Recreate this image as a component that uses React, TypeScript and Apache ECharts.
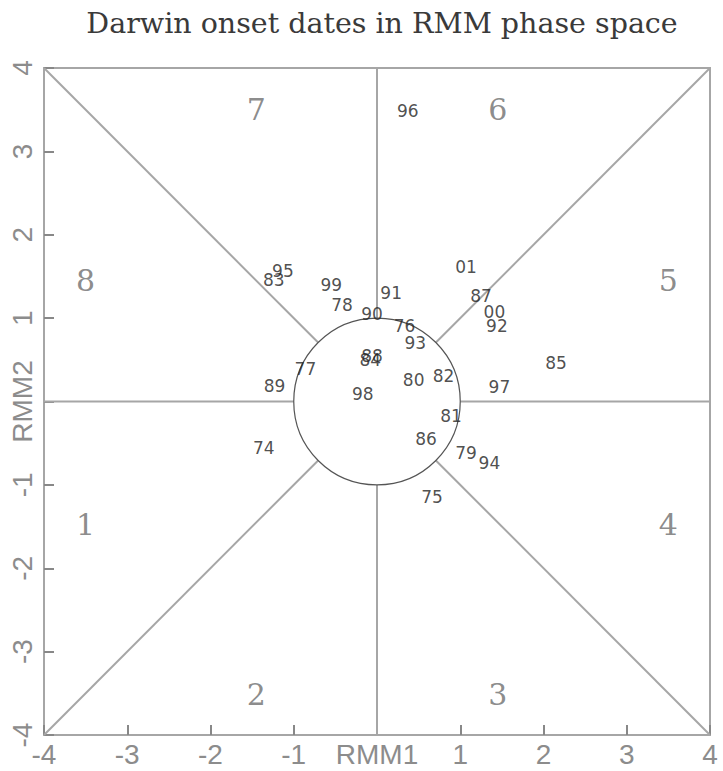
import React, { useEffect, useRef } from "react";
import * as echarts from "echarts";

const titleText = "Darwin onset dates in RMM phase space";
const axisTicks = [-4, -3, -2, -1, 0, 1, 2, 3, 4];
const xAxisName = "RMM1";
const yAxisName = "RMM2";

const years = ["96", "01", "95", "83", "99", "91", "87", "78", "00", "90", "92", "76", "93", "88", "84", "85", "77", "82", "80", "89", "97", "98", "81", "86", "74", "79", "94", "75"];
const rmm1 = [0.37, 1.07, -1.13, -1.24, -0.55, 0.17, 1.25, -0.42, 1.41, -0.06, 1.44, 0.33, 0.46, -0.06, -0.08, 2.15, -0.86, 0.80, 0.44, -1.23, 1.47, -0.17, 0.89, 0.59, -1.36, 1.07, 1.35, 0.66];
const rmm2 = [3.48, 1.61, 1.57, 1.46, 1.40, 1.30, 1.26, 1.16, 1.07, 1.05, 0.90, 0.90, 0.70, 0.54, 0.50, 0.46, 0.39, 0.30, 0.26, 0.19, 0.17, 0.09, -0.17, -0.45, -0.56, -0.62, -0.74, -1.14];

const phaseNames = ["1", "2", "3", "4", "5", "6", "7", "8"];
const phaseX = [-3.5, -1.45, 1.45, 3.5, 3.5, 1.45, -1.45, -3.5];
const phaseY = [-1.48, -3.52, -3.52, -1.48, 1.45, 3.5, 3.5, 1.45];

const lineAngles = [0, 45, 90, 135, 180, 225, 270, 315];

export default function App() {
  const ref = useRef<HTMLDivElement>(null);
  useEffect(() => {
    const chart = echarts.init(ref.current!, null, { renderer: "svg" });
    const lineSeries = lineAngles.map((a) => {
      const c = Math.cos((a * Math.PI) / 180);
      const s = Math.sin((a * Math.PI) / 180);
      const c0 = Math.abs(c) < 1e-9 ? 0 : c;
      const s0 = Math.abs(s) < 1e-9 ? 0 : s;
      const k = 4 / Math.max(Math.abs(c0), Math.abs(s0));
      return {
        type: "line",
        data: [
          [c0, s0],
          [c0 * k, s0 * k],
        ],
        symbol: "none",
        silent: true,
        lineStyle: { color: "#a6a6a6", width: 2 },
        z: 1,
      };
    });
    const axisLabelStyle = {
      fontFamily: "'Liberation Sans Narrow', 'Liberation Sans', sans-serif",
      fontSize: 28,
      color: "#8c8c8c",
    };
    const tickStyle = { show: true, inside: true, length: 10, lineStyle: { color: "#888", width: 2 } };
    chart.setOption({
      animation: false,
      backgroundColor: "#ffffff",
      title: {
        text: titleText,
        left: 377,
        top: 4,
        textAlign: "center",
        textStyle: {
          fontFamily: "'DejaVu Serif', serif",
          fontWeight: "normal",
          fontSize: 28.5,
          color: "#3a3a3a",
        },
      },
      grid: {
        left: 44,
        top: 68,
        width: 666,
        height: 667,
        show: true,
        borderColor: "#a6a6a6",
        borderWidth: 2,
        backgroundColor: "transparent",
      },
      xAxis: {
        type: "value",
        min: -4,
        max: 4,
        interval: 1,
        position: "bottom",
        axisLine: { show: true, onZero: false, lineStyle: { color: "#a6a6a6", width: 2 } },
        axisTick: tickStyle,
        splitLine: { show: false },
        axisLabel: {
          ...axisLabelStyle,
          margin: 5,
          formatter: (v: number) => (v === 0 ? xAxisName : axisTicks.includes(v) ? String(v) : ""),
        },
      },
      yAxis: {
        type: "value",
        min: -4,
        max: 4,
        interval: 1,
        position: "left",
        axisLine: { show: true, onZero: false, lineStyle: { color: "#a6a6a6", width: 2 } },
        axisTick: tickStyle,
        splitLine: { show: false },
        axisLabel: {
          ...axisLabelStyle,
          rotate: 90,
          margin: 8,
          formatter: (v: number) => (v === 0 ? yAxisName : axisTicks.includes(v) ? String(v) : ""),
        },
      },
      series: [
        ...lineSeries,
        {
          type: "custom",
          silent: true,
          data: [[0, 0]],
          renderItem: (_params: any, api: any) => {
            const c = api.coord([0, 0]);
            const r = api.size([1, 1]);
            return {
              type: "ellipse",
              shape: { cx: c[0], cy: c[1], rx: r[0], ry: r[1] },
              style: { fill: "none", stroke: "#555", lineWidth: 1.2 },
            };
          },
          z: 2,
        },
        {
          type: "scatter",
          silent: true,
          symbolSize: 1,
          itemStyle: { color: "rgba(0,0,0,0)" },
          data: phaseNames.map((n, i) => [phaseX[i], phaseY[i], n]),
          label: {
            show: true,
            position: "inside",
            formatter: (p: any) => p.value[2],
            fontFamily: "'DejaVu Serif', serif",
            fontSize: 30,
            color: "#6e6e6e",
          },
          z: 3,
        },
        {
          type: "scatter",
          silent: true,
          symbolSize: 1,
          itemStyle: { color: "rgba(0,0,0,0)" },
          data: years.map((n, i) => [rmm1[i], rmm2[i], n]),
          label: {
            show: true,
            position: "inside",
            formatter: (p: any) => p.value[2],
            fontFamily: "'DejaVu Sans', sans-serif",
            fontSize: 17,
            color: "#222",
          },
          z: 4,
        },
      ],
    });
    return () => chart.dispose();
  }, []);
  return (
    <div
      ref={ref}
      style={{ position: "absolute", left: 0, top: 0, width: 723, height: 771 }}
    />
  );
}
